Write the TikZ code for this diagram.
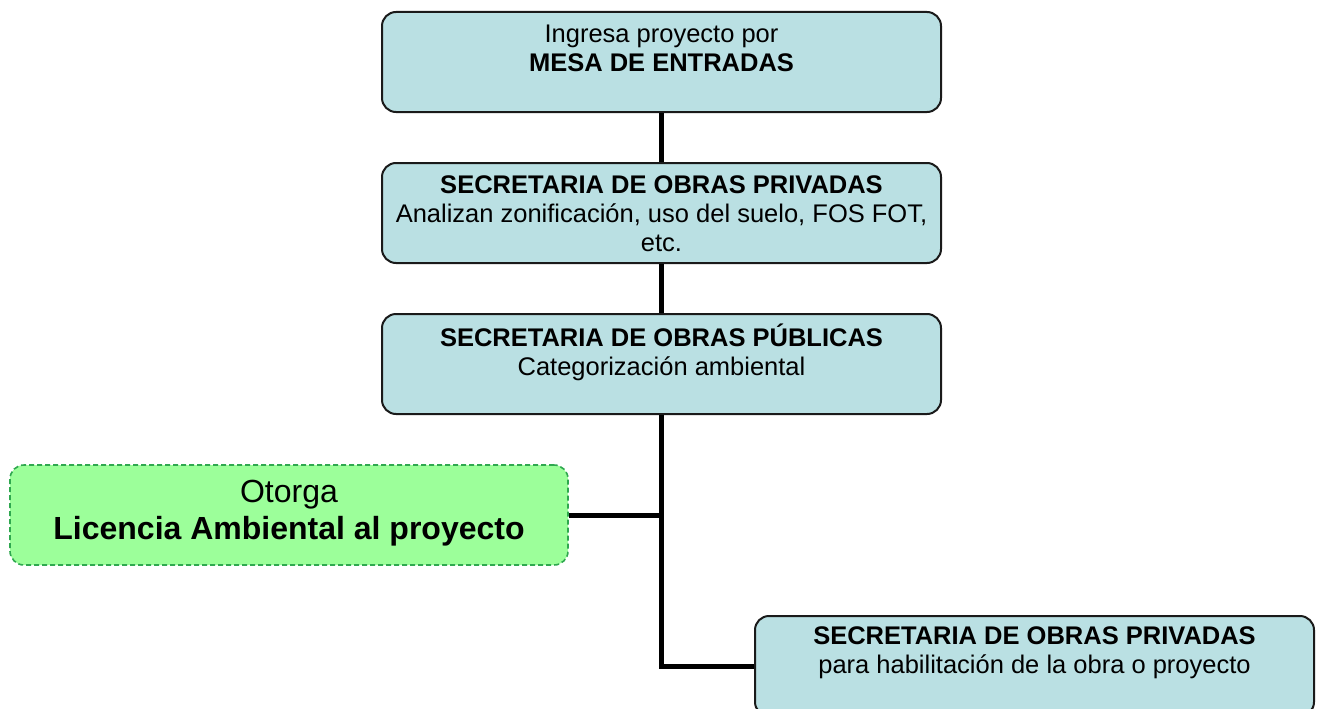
\documentclass[tikz,border=0pt]{standalone}
\usepackage{fontspec}
\setmainfont{Liberation Sans}
\definecolor{boxblue}{HTML}{BAE0E3}
\definecolor{boxgreen}{HTML}{9CFF9A}
\definecolor{greenline}{HTML}{2FA84F}
\definecolor{edgedark}{HTML}{1A1A1A}
\begin{document}
\begin{tikzpicture}[x=1pt,y=-1pt,
  bluebox/.style={draw=edgedark,line width=2pt,fill=boxblue,rounded corners=14pt,
    minimum width=559pt,minimum height=100pt,inner sep=0pt},
  greenbox/.style={draw=greenline,line width=1.6pt,dash pattern=on 5pt off 3pt,fill=boxgreen,
    rounded corners=14pt,minimum width=558pt,minimum height=100pt,inner sep=0pt},
  boxtext/.style={anchor=north,inner sep=0pt,align=center,
    font=\fontsize{25.5}{29}\selectfont},
  bigtext/.style={anchor=north,inner sep=0pt,align=center,
    font=\fontsize{32}{37}\selectfont},
  conn/.style={line width=5pt,draw=black}]
\useasboundingbox (0,0) rectangle (1317,709);
\node[bluebox] (b1) at (661.5,62) {};
\node[bluebox] (b2) at (661.5,213) {};
\node[bluebox] (b3) at (661.5,364) {};
\node[greenbox] (g) at (289,515) {};
\node[bluebox] (b5) at (1034.5,666) {};
\draw[conn] (b1.south) -- (b2.north);
\draw[conn] (b2.south) -- (b3.north);
\draw[conn] (b3.south) |- (b5.west);
\draw[conn] (g.east) -- (g.east -| b3.south);
\node[boxtext] (t1) at (661.5,22.2) {\strut Ingresa proyecto por\\\textbf{MESA DE ENTRADAS}};
\node[boxtext] (t2) at (661.5,173.2) {\strut\textbf{SECRETARIA DE OBRAS PRIVADAS}\\Analizan zonificación, uso del suelo, FOS FOT,\\etc.};
\node[boxtext] (t3) at (661.5,323.2) {\strut\textbf{SECRETARIA DE OBRAS PÚBLICAS}\\Categorización ambiental};
\node[bigtext] (tg) at (289,476) {\strut Otorga\\\textbf{Licencia Ambiental al proyecto}};
\node[boxtext] (t5) at (1034.5,624.2) {\strut\textbf{SECRETARIA DE OBRAS PRIVADAS}\\para habilitación de la obra o proyecto};
\end{tikzpicture}
\end{document}
